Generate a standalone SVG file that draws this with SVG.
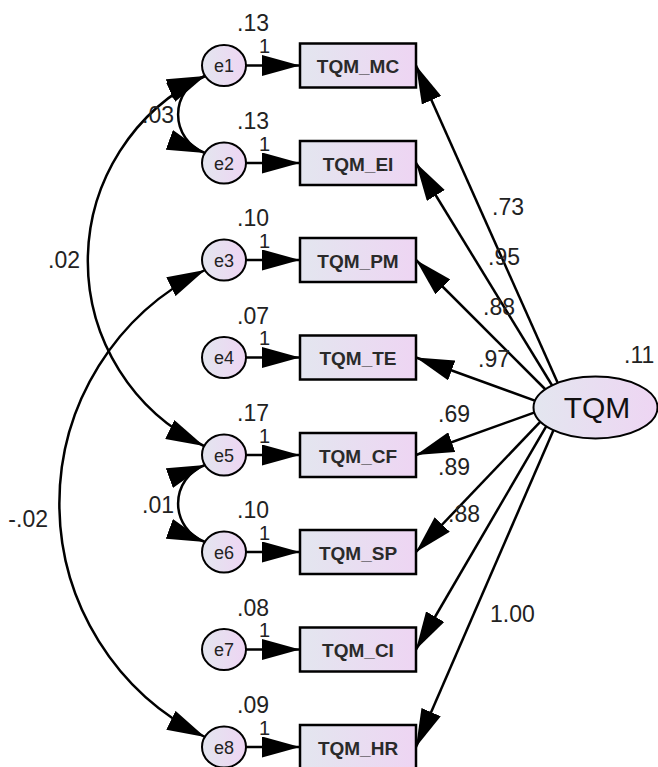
<svg xmlns="http://www.w3.org/2000/svg" width="658" height="767" viewBox="0 0 658 767">
<defs>
<linearGradient id="g" x1="0" y1="0" x2="1" y2="0">
<stop offset="0" stop-color="#e3e6ef"/>
<stop offset="1" stop-color="#eed5f3"/>
</linearGradient>
<marker id="ah" viewBox="0 0 38 21" refX="38" refY="10.5" markerWidth="38" markerHeight="21" markerUnits="userSpaceOnUse" orient="auto-start-reverse">
<path d="M0,0 L38,10.5 L0,21 z" fill="#000"/>
</marker>
</defs>
<style>
.box{fill:url(#g);stroke:#000;stroke-width:2.5}
.err{fill:url(#g);stroke:#000;stroke-width:2}
.lat{fill:url(#g);stroke:#000;stroke-width:2}
.bl{font-family:"Liberation Sans",Arial,sans-serif;font-size:19px;font-weight:bold;fill:#2a2a2a;text-anchor:middle}
.el{font-family:"Liberation Sans",Arial,sans-serif;font-size:18px;fill:#222;text-anchor:middle}
.num{font-family:"Liberation Sans",Arial,sans-serif;font-size:23px;fill:#222}
.one{font-family:"Liberation Sans",Arial,sans-serif;font-size:20px;fill:#222}
.p{fill:none;stroke:#000;stroke-width:2.5;marker-end:url(#ah)}
.c{fill:none;stroke:#000;stroke-width:2.5;marker-start:url(#ah);marker-end:url(#ah)}
</style>
<g id="connectors">
<line class="p" x1="246" y1="65.5" x2="300" y2="65.5"/>
<line class="p" x1="246" y1="163" x2="300" y2="163"/>
<line class="p" x1="246" y1="260" x2="300" y2="260"/>
<line class="p" x1="246" y1="357.5" x2="300" y2="357.5"/>
<line class="p" x1="246" y1="455" x2="300" y2="455"/>
<line class="p" x1="246" y1="552" x2="300" y2="552"/>
<line class="p" x1="246" y1="649.5" x2="300" y2="649.5"/>
<line class="p" x1="246" y1="747" x2="300" y2="747"/>
<line class="p" x1="560" y1="388" x2="416" y2="65.5"/>
<line class="p" x1="555.2" y1="390.5" x2="416" y2="163"/>
<line class="p" x1="549" y1="393" x2="416" y2="260"/>
<line class="p" x1="542.4" y1="403.4" x2="416" y2="357.5"/>
<line class="p" x1="542.4" y1="409.6" x2="416" y2="455"/>
<line class="p" x1="546.9" y1="414.8" x2="416" y2="552"/>
<line class="p" x1="552" y1="416.4" x2="416" y2="649.5"/>
<line class="p" x1="558" y1="419.8" x2="416" y2="747"/>
<path class="c" d="M205,76 A205,205 0 0 0 204,446"/>
<path class="c" d="M205,76 A41,41 0 0 0 205,153"/>
<path class="c" d="M205,465 A41,41 0 0 0 205,542"/>
<path class="c" d="M205,270 A260,260 0 0 0 205,737"/>
</g>
<g id="TQM_MC"><rect class="box" x="300" y="43.5" width="116" height="44"/><text class="bl" x="358" y="73">TQM_MC</text></g>
<g id="TQM_EI"><rect class="box" x="300" y="141" width="116" height="44"/><text class="bl" x="358" y="170.5">TQM_EI</text></g>
<g id="TQM_PM"><rect class="box" x="300" y="238" width="116" height="44"/><text class="bl" x="358" y="267.5">TQM_PM</text></g>
<g id="TQM_TE"><rect class="box" x="300" y="335.5" width="116" height="44"/><text class="bl" x="358" y="365">TQM_TE</text></g>
<g id="TQM_CF"><rect class="box" x="300" y="433" width="116" height="44"/><text class="bl" x="358" y="462.5">TQM_CF</text></g>
<g id="TQM_SP"><rect class="box" x="300" y="530" width="116" height="44"/><text class="bl" x="358" y="559.5">TQM_SP</text></g>
<g id="TQM_CI"><rect class="box" x="300" y="627.5" width="116" height="44"/><text class="bl" x="358" y="657">TQM_CI</text></g>
<g id="TQM_HR"><rect class="box" x="300" y="725" width="116" height="44"/><text class="bl" x="358" y="754.5">TQM_HR</text></g>
<g id="e1"><ellipse class="err" cx="224" cy="65.5" rx="22" ry="20.5"/><text class="el" x="224" y="72">e1</text><text class="num" x="237" y="31">.13</text><text class="one" x="259" y="53">1</text></g>
<g id="e2"><ellipse class="err" cx="224" cy="163" rx="22" ry="20.5"/><text class="el" x="224" y="169.5">e2</text><text class="num" x="237" y="129">.13</text><text class="one" x="259" y="150.5">1</text></g>
<g id="e3"><ellipse class="err" cx="224" cy="260" rx="22" ry="20.5"/><text class="el" x="224" y="266.5">e3</text><text class="num" x="237" y="226">.10</text><text class="one" x="259" y="247.5">1</text></g>
<g id="e4"><ellipse class="err" cx="224" cy="357.5" rx="22" ry="20.5"/><text class="el" x="224" y="364">e4</text><text class="num" x="237" y="323.5">.07</text><text class="one" x="259" y="345">1</text></g>
<g id="e5"><ellipse class="err" cx="224" cy="455" rx="22" ry="20.5"/><text class="el" x="224" y="461.5">e5</text><text class="num" x="237" y="421">.17</text><text class="one" x="259" y="442.5">1</text></g>
<g id="e6"><ellipse class="err" cx="224" cy="552" rx="22" ry="20.5"/><text class="el" x="224" y="558.5">e6</text><text class="num" x="237" y="518">.10</text><text class="one" x="259" y="539.5">1</text></g>
<g id="e7"><ellipse class="err" cx="224" cy="649.5" rx="22" ry="20.5"/><text class="el" x="224" y="656">e7</text><text class="num" x="237" y="615.5">.08</text><text class="one" x="259" y="637">1</text></g>
<g id="e8"><ellipse class="err" cx="224" cy="747" rx="22" ry="20.5"/><text class="el" x="224" y="753.5">e8</text><text class="num" x="237" y="713">.09</text><text class="one" x="259" y="734.5">1</text></g>
<g id="TQM"><ellipse class="lat" cx="595.5" cy="407.5" rx="62" ry="31"/><text x="597" y="418" style="font-family:'Liberation Sans',Arial,sans-serif;font-size:30px;fill:#111;text-anchor:middle">TQM</text><text class="num" x="624" y="363">.11</text></g>
<g id="labels">
<text class="num" x="492" y="215">.73</text>
<text class="num" x="488" y="265">.95</text>
<text class="num" x="483" y="315">.88</text>
<text class="num" x="478" y="367">.97</text>
<text class="num" x="438" y="422">.69</text>
<text class="num" x="438" y="475">.89</text>
<text class="num" x="448" y="522">.88</text>
<text class="num" x="490" y="622">1.00</text>
<text class="num" x="174" y="123" text-anchor="end">.03</text>
<text class="num" x="80" y="268" text-anchor="end">.02</text>
<text class="num" x="174" y="513" text-anchor="end">.01</text>
<text class="num" x="48" y="527" text-anchor="end">-.02</text>
</g>
</svg>
